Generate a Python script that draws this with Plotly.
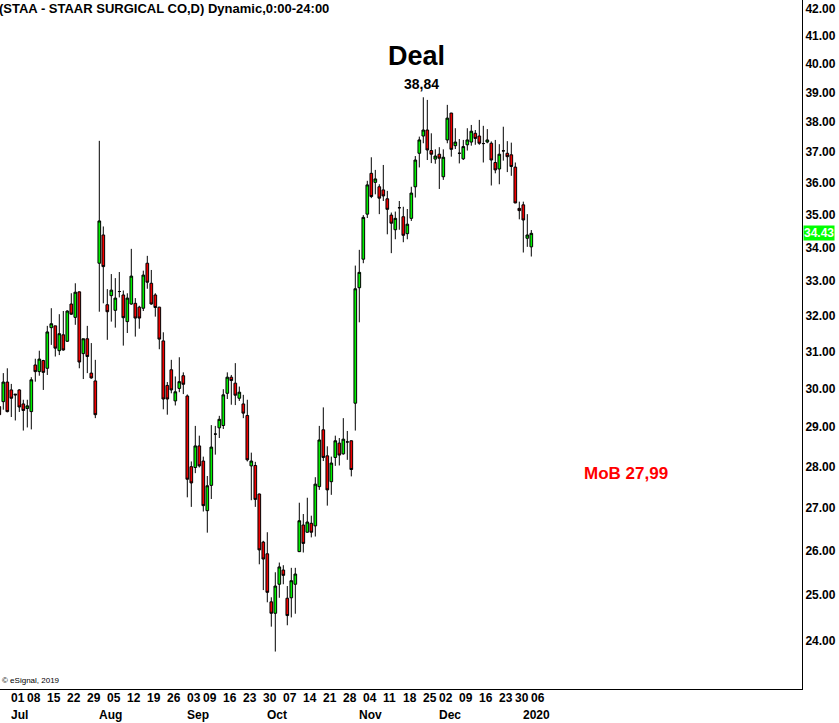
import numpy as np
import pandas as pd
import plotly.graph_objects as go

# trading days Jun 26 2019 - Jan 6 2020 (US market holidays removed)
holidays = ["2019-07-04", "2019-09-02", "2019-11-28", "2019-12-25", "2020-01-01"]
days = [d for d in pd.bdate_range("2019-06-26", "2020-01-06").strftime("%Y-%m-%d") if d not in holidays]

opens = [
    29.53, 29.66, 30.18,
    29.97, 29.86, 29.97, 29.60, 29.48, 29.40, 30.64, 30.46, 30.76, 30.55, 31.67, 31.72, 31.03, 31.47,
    31.29, 32.34, 31.96, 32.69, 30.95, 31.36, 30.42, 30.21,
    33.53, 34.38, 32.32, 32.58, 32.16, 32.70, 32.60, 31.84, 32.34, 32.36, 32.25, 32.22, 33.53, 32.94,
    32.60, 32.25, 31.30, 30.09, 30.51, 29.68, 30.01, 30.35,
    29.81, 28.00, 27.98, 28.52, 28.14, 26.93, 27.54, 28.82, 28.98, 29.04, 29.88, 30.31, 30.15, 29.75,
    29.60, 29.30, 28.02, 28.03, 27.33, 26.19,
    25.92, 24.84, 24.59, 25.23, 25.55, 24.92, 24.93, 25.23, 25.97, 26.59, 26.42, 26.63, 26.57, 27.51,
    28.93, 28.27, 27.63, 28.23, 28.59, 28.32, 28.62, 28.65, 29.62,
    32.81, 33.65, 35.02, 36.31, 36.02, 35.88, 35.78, 35.50, 34.99, 34.54, 35.22, 34.94, 34.42, 34.89,
    35.88, 36.96, 37.53, 37.73, 37.05, 36.77,
    36.93, 36.20, 37.40, 38.30, 37.21, 36.96, 36.78, 37.24, 37.33, 37.62, 37.53, 37.28, 37.33, 37.29,
    36.66, 36.45, 37.04, 36.96, 36.91, 36.51, 35.20,
    35.31, 34.28, 34.02,
]
highs = [
    29.71, 30.42, 30.55,
    30.13, 29.86, 29.99, 29.71, 29.71, 30.31, 30.81, 31.03, 30.78, 31.72, 32.22, 31.72, 32.05, 32.14,
    32.16, 32.65, 32.94, 32.70, 31.36, 31.72, 31.24, 30.78,
    37.37, 34.64, 32.77, 33.21, 33.09, 33.27, 32.73, 32.65, 33.96, 32.51, 32.29, 33.31, 33.75, 33.33,
    32.65, 32.26, 31.54, 30.18, 30.78, 30.33, 30.85, 30.44,
    29.85, 28.13, 29.03, 28.78, 28.25, 27.77, 29.05, 29.03, 29.29, 29.99, 30.44, 30.37, 30.69, 30.06,
    29.84, 29.71, 28.35, 28.12, 27.34, 26.22,
    26.42, 24.94, 25.50, 25.72, 25.66, 25.19, 25.60, 25.60, 27.12, 26.85, 27.24, 26.81, 27.74, 29.03,
    29.51, 28.51, 28.25, 28.78, 28.72, 29.23, 28.90, 28.66, 33.46,
    33.93, 34.99, 36.07, 36.83, 36.42, 35.96, 36.58, 35.75, 35.07, 35.10, 35.43, 35.25, 35.18, 35.88,
    36.87, 37.51, 38.84, 38.75, 37.62, 37.09,
    37.16, 37.09, 38.58, 38.31, 37.79, 37.43, 37.40, 37.79, 37.90, 37.73, 38.07, 37.87, 37.76, 37.35,
    37.40, 37.26, 37.84, 37.36, 37.31, 36.66, 35.41,
    35.41, 35.02, 34.53,
]
lows = [
    29.24, 29.45, 29.38,
    29.26, 29.17, 29.39, 28.91, 28.99, 28.94, 30.19, 30.35, 29.97, 30.37, 31.19, 30.87, 30.91, 31.03,
    31.27, 32.03, 31.75, 30.55, 30.26, 30.42, 30.27, 29.23,
    32.12, 32.36, 31.33, 31.84, 31.67, 32.53, 31.17, 31.52, 32.32, 31.42, 31.64, 32.14, 32.78, 32.32,
    31.98, 31.07, 29.46, 29.32, 29.88, 29.56, 29.91, 29.86,
    27.25, 27.02, 27.84, 27.98, 26.91, 26.41, 27.21, 28.30, 28.72, 28.95, 29.73, 29.58, 29.57, 29.68,
    29.23, 28.13, 27.18, 27.02, 25.68, 25.10,
    24.83, 24.30, 23.77, 24.93, 25.23, 24.33, 24.50, 24.58, 25.96, 25.95, 26.41, 26.30, 26.32, 27.43,
    28.14, 27.05, 27.31, 28.02, 28.03, 28.30, 28.17, 27.76, 28.91,
    31.82, 33.53, 34.90, 35.52, 35.64, 35.02, 35.43, 34.40, 33.83, 34.25, 34.54, 34.16, 34.25, 34.81,
    35.54, 36.50, 37.29, 36.74, 36.64, 36.62,
    35.81, 36.10, 37.29, 36.85, 37.10, 36.63, 36.74, 37.05, 37.21, 37.24, 37.24, 36.66, 37.29, 35.92,
    36.31, 35.96, 36.72, 36.35, 36.23, 35.36, 34.86,
    33.85, 34.02, 33.73,
]
closes = [
    29.32, 30.18, 29.40,
    29.75, 29.84, 29.52, 29.43, 29.55, 30.24, 30.46, 30.80, 30.44, 31.55, 31.78, 31.10, 31.50, 31.05,
    32.14, 32.05, 32.68, 30.72, 31.36, 30.87, 30.29, 29.32,
    34.81, 33.43, 32.12, 32.74, 32.51, 32.70, 31.95, 32.51, 33.15, 31.94, 31.94, 33.18, 32.97, 32.34,
    32.24, 31.35, 29.73, 29.73, 29.97, 29.92, 30.19, 30.12,
    27.69, 27.60, 28.52, 28.02, 27.05, 27.53, 28.49, 28.82, 29.20, 29.84, 30.31, 30.22, 29.83, 29.91,
    29.36, 28.17, 28.14, 27.20, 26.01, 25.80,
    25.05, 24.59, 25.19, 25.62, 25.43, 24.54, 25.31, 25.46, 26.69, 26.16, 26.66, 26.42, 27.57, 28.67,
    28.23, 27.43, 28.09, 28.65, 28.29, 28.69, 28.62, 27.93, 32.78,
    33.26, 34.92, 35.94, 35.57, 36.13, 35.52, 35.59, 35.17, 34.74, 34.89, 35.22, 34.37, 34.71, 35.68,
    36.74, 37.40, 37.73, 37.07, 36.93, 36.87,
    36.80, 36.83, 38.13, 37.09, 37.33, 36.96, 37.18, 37.40, 37.69, 37.45, 37.29, 37.28, 37.40, 36.74,
    36.42, 36.93, 37.04, 36.85, 36.53, 35.37, 35.13,
    34.84, 34.38, 34.43,
]

# weekly axis labels and month labels (first trading day)
week_days = [
    "2019-07-01", "2019-07-08", "2019-07-15", "2019-07-22", "2019-07-29",
    "2019-08-05", "2019-08-12", "2019-08-19", "2019-08-26",
    "2019-09-03", "2019-09-09", "2019-09-16", "2019-09-23", "2019-09-30",
    "2019-10-07", "2019-10-14", "2019-10-21", "2019-10-28",
    "2019-11-04", "2019-11-11", "2019-11-18", "2019-11-25",
    "2019-12-02", "2019-12-09", "2019-12-16", "2019-12-23", "2019-12-30",
    "2020-01-06",
]
month_days = ["2019-07-01", "2019-08-01", "2019-09-03", "2019-10-01", "2019-11-01", "2019-12-02", "2020-01-02"]
month_names = ["Jul", "Aug", "Sep", "Oct", "Nov", "Dec", "2020"]
price_ticks = [24, 25, 26, 27, 28, 29, 30, 31, 32, 33, 34, 35, 36, 37, 38, 39, 40, 41, 42]

deal_high = 38.84
mob_price = 27.99
last_price = closes[-1]

FONT = "Arial, 'Liberation Sans', sans-serif"
PLOT_W, PLOT_H = 802, 689  # plot area in pixels


def px_x(x):
    return x / PLOT_W


def px_y(y):
    return (PLOT_H - y) / PLOT_H


fig = go.Figure(
    go.Candlestick(
        x=days,
        open=opens,
        high=highs,
        low=lows,
        close=closes,
        increasing=dict(fillcolor="#00f000", line=dict(color="#000000", width=1)),
        decreasing=dict(fillcolor="#f00000", line=dict(color="#000000", width=1)),
        whiskerwidth=0,
        hoverinfo="x+y",
    )
)

annotations = []
for d in week_days:
    annotations.append(dict(
        x=d, xref="x", y=0, yref="paper", yanchor="middle", xanchor="left",
        xshift=-2, yshift=-9, showarrow=False, text=d[-2:],
        font=dict(family=FONT, size=12, color="#000000", weight="bold"),
    ))
for d, name in zip(month_days, month_names):
    annotations.append(dict(
        x=d, xref="x", y=0, yref="paper", yanchor="middle", xanchor="left",
        xshift=-2, yshift=-26, showarrow=False, text=name,
        font=dict(family=FONT, size=12, color="#000000", weight="bold"),
    ))

annotations += [
    dict(x=0, xref="paper", y=1, yref="paper", xanchor="left", yanchor="top", xshift=-3, yshift=1,
         showarrow=False, text="(STAA - STAAR SURGICAL CO,D) Dynamic,0:00-24:00",
         font=dict(family=FONT, size=13, color="#000000", weight="bold")),
    dict(x=px_x(416.5), xref="paper", y=px_y(56), yref="paper", xanchor="center", yanchor="middle",
         showarrow=False, text="Deal",
         font=dict(family=FONT, size=27, color="#000000", weight="bold")),
    dict(x=px_x(421), xref="paper", y=px_y(84), yref="paper", xanchor="center", yanchor="middle",
         showarrow=False, text=f"{deal_high:.2f}".replace(".", ","),
         font=dict(family=FONT, size=14, color="#000000", weight="bold")),
    dict(x=px_x(625.5), xref="paper", y=px_y(473), yref="paper", xanchor="center", yanchor="middle",
         showarrow=False, text="MoB " + f"{mob_price:.2f}".replace(".", ","),
         font=dict(family=FONT, size=17, color="#ff0000", weight="bold")),
    dict(x=0, xref="paper", y=0, yref="paper", xanchor="left", yanchor="bottom", yshift=2,
         showarrow=False, text="© eSignal, 2019",
         font=dict(family=FONT, size=8, color="#000000")),
    dict(x=1, xref="paper", y=np.log10(last_price), yref="y", xanchor="left", yanchor="middle",
         xshift=1, showarrow=False, text=f"{last_price:.2f}", bgcolor="#00ff00", borderpad=0,
         font=dict(family=FONT, size=12, color="#ffffff", weight="bold")),
]

fig.update_layout(
    width=839,
    height=723,
    autosize=False,
    margin=dict(l=0, r=839 - PLOT_W, t=0, b=723 - PLOT_H),
    paper_bgcolor="#ffffff",
    plot_bgcolor="#ffffff",
    showlegend=False,
    boxgap=0.05,
    font=dict(family=FONT, color="#000000"),
    annotations=annotations,
    xaxis=dict(
        type="category",
        range=[0.175, 200.675],
        rangeslider=dict(visible=False),
        showgrid=False,
        zeroline=False,
        showticklabels=False,
        ticks="",
        showline=True,
        linecolor="#000000",
        linewidth=1,
    ),
    yaxis=dict(
        type="log",
        side="right",
        range=[1.36162, 1.62671],
        tickmode="array",
        tickvals=price_ticks,
        ticktext=[f"{v:.2f}" for v in price_ticks],
        showgrid=False,
        zeroline=False,
        ticks="",
        showline=True,
        linecolor="#000000",
        linewidth=1,
        tickfont=dict(family=FONT, size=12, color="#000000", weight="bold"),
    ),
)

# the page body has a default 8px margin; drop it so the figure sits at the window corner
fig.write_html(
    "out.html",
    config={"displayModeBar": False},
    post_script="document.body.style.margin='0';",
)
